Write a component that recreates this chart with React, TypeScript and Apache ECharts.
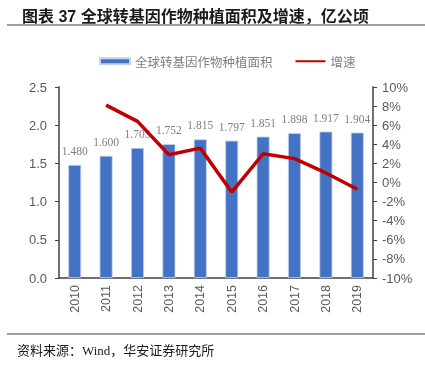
import React, { useEffect, useRef } from "react";
import * as echarts from "echarts";

const years = ["2010", "2011", "2012", "2013", "2014", "2015", "2016", "2017", "2018", "2019"];
const area = [1.48, 1.6, 1.703, 1.752, 1.815, 1.797, 1.851, 1.898, 1.917, 1.904];
const growth = [null, 8.1, 6.4, 2.9, 3.6, -1.0, 3.0, 2.5, 1.0, -0.7];
const leftTicks = { min: 0, max: 2.5, interval: 0.5 };
const rightTicks = { min: -10, max: 10, interval: 2 };

const titleText = "图表 37 全球转基因作物种植面积及增速，亿公顷";
const sourceText = "资料来源：Wind，华安证券研究所";
const barName = "全球转基因作物种植面积";
const lineName = "增速";

export default function App() {
  const ref = useRef<HTMLDivElement>(null);
  useEffect(() => {
    const chart = echarts.init(ref.current!, undefined, { renderer: "svg" });
    const axisColor = "#404040";
    const labelColor = "#595959";
    chart.setOption({
      animation: false,
      title: {
        text: titleText,
        left: 17,
        top: 3,
        textStyle: {
          fontSize: 16,
          fontWeight: "bold",
          color: "#1a1a1a",
          fontFamily: "Liberation Sans, Noto Sans CJK SC, sans-serif",
        },
      },
      graphic: [
        { type: "line", shape: { x1: 7, y1: 25, x2: 425, y2: 25 }, style: { stroke: "#7f7f7f", lineWidth: 1.5 } },
        { type: "line", shape: { x1: 7, y1: 334, x2: 425, y2: 334 }, style: { stroke: "#7f7f7f", lineWidth: 1.5 } },
        {
          type: "text",
          left: 17,
          top: 344,
          style: {
            text: sourceText,
            fontSize: 13,
            fill: "#1a1a1a",
            fontFamily: "Liberation Serif, Noto Sans CJK SC, serif",
          },
        },
      ],
      legend: {
        top: 50,
        left: 94,
        itemWidth: 30,
        itemHeight: 6,
        itemGap: 22,
        textStyle: { fontSize: 12.5, color: "#7f7f7f", fontFamily: "Noto Sans CJK SC, sans-serif" },
        data: [
          { name: barName, icon: "rect" },
          { name: lineName, itemStyle: { opacity: 0 } },
        ],
      },
      grid: { left: 59, right: 52, top: 87, bottom: 88 },
      xAxis: {
        type: "category",
        data: years,
        axisLine: { lineStyle: { color: axisColor, width: 1.5 } },
        axisTick: { length: 4, lineStyle: { color: axisColor } },
        axisLabel: {
          rotate: 90,
          margin: 7,
          fontSize: 12.5,
          color: labelColor,
          fontFamily: "Liberation Sans, Arial, sans-serif",
        },
      },
      yAxis: [
        {
          type: "value",
          ...leftTicks,
          splitLine: { show: false },
          axisLine: { show: true, lineStyle: { color: axisColor, width: 1.5 } },
          axisTick: { show: true, length: 4, lineStyle: { color: axisColor } },
          axisLabel: {
            margin: 12,
            fontSize: 13,
            color: labelColor,
            fontFamily: "Liberation Sans, Arial, sans-serif",
            formatter: (v: number) => v.toFixed(1),
          },
        },
        {
          type: "value",
          ...rightTicks,
          splitLine: { show: false },
          axisLine: { show: true, lineStyle: { color: axisColor, width: 1.5 } },
          axisTick: { show: true, length: 4, lineStyle: { color: axisColor } },
          axisLabel: {
            margin: 9,
            fontSize: 13,
            color: labelColor,
            fontFamily: "Liberation Sans, Arial, sans-serif",
            formatter: "{value}%",
          },
        },
      ],
      series: [
        {
          name: barName,
          type: "bar",
          data: area,
          barWidth: 13,
          itemStyle: { color: "#4472C4", borderColor: "#c5d3ee", borderWidth: 0.8 },
          label: {
            show: true,
            position: "top",
            distance: 8,
            fontSize: 11.5,
            color: "#7f7f7f",
            fontFamily: "Liberation Serif, Times New Roman, serif",
            formatter: (p: any) => Number(p.value).toFixed(3),
          },
          z: 2,
        },
        {
          name: lineName,
          type: "line",
          yAxisIndex: 1,
          data: growth,
          symbol: "none",
          lineStyle: { color: "#C00000", width: 3.5 },
          itemStyle: { color: "#C00000" },
          z: 5,
        },
      ],
    });
    return () => chart.dispose();
  }, []);
  return <div ref={ref} style={{ position: "fixed", left: 0, top: 0, width: 425, height: 366 }} />;
}
